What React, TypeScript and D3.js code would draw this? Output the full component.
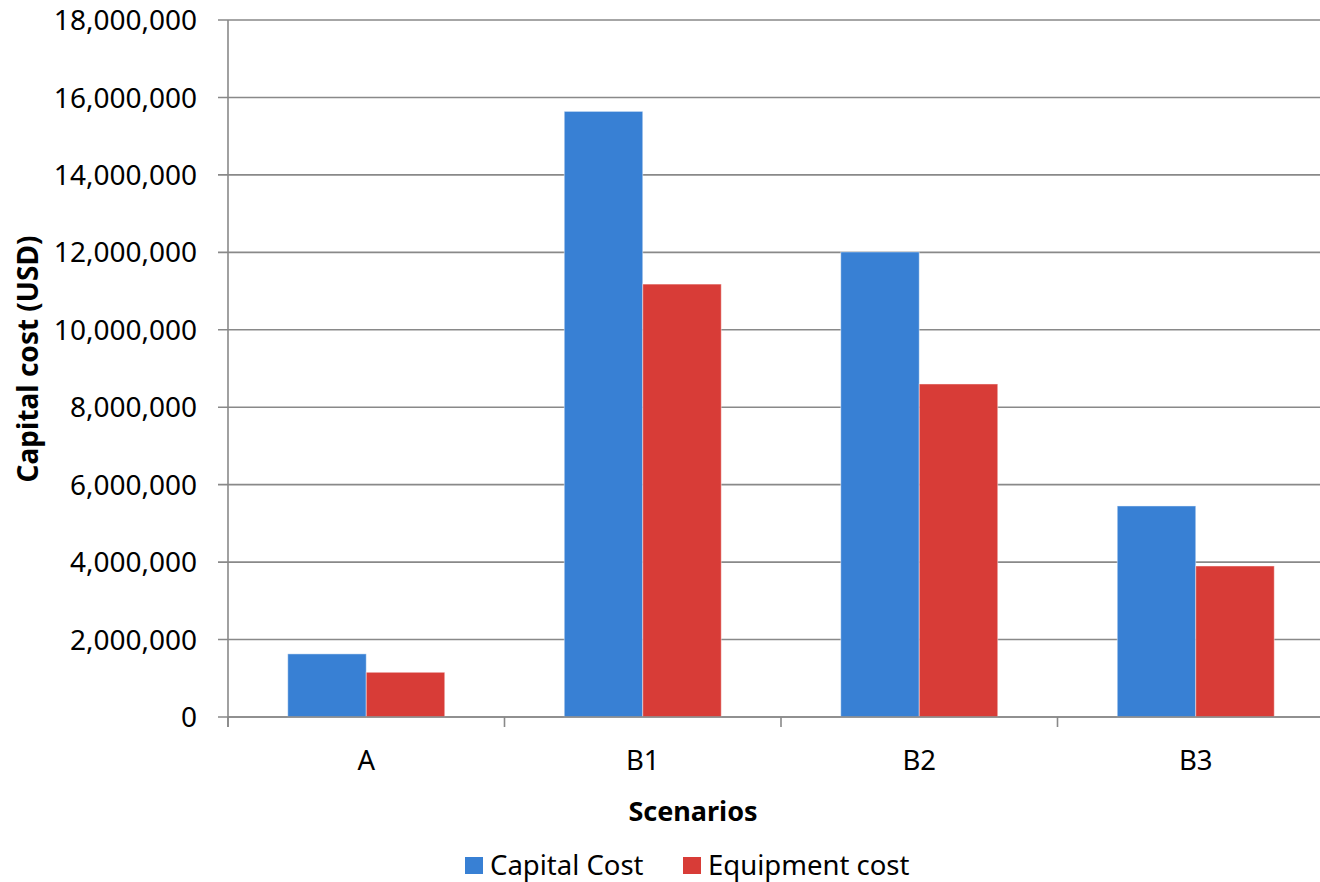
import React from "react";
import * as d3 from "d3";

const categories = ["A", "B1", "B2", "B3"];
const capitalCost = [1630000, 15640000, 12010000, 5450000];
const equipmentCost = [1155000, 11180000, 8600000, 3900000];
const seriesNames = ["Capital Cost", "Equipment cost"];
const seriesColors = ["#3880d4", "#d83c37"];
const yTicks = [0, 2000000, 4000000, 6000000, 8000000, 10000000, 12000000, 14000000, 16000000, 18000000];

const W = 1320;
const H = 882;
const FONT = "'Noto Sans', 'Open Sans', sans-serif";

export default function App() {
  const x0 = 228;
  const x1 = 228 + 4 * 276.5;
  const yTop = 20;
  const yBot = 717;
  const x = d3.scaleBand<string>().domain(categories).range([x0, x1]);
  const inner = d3.scaleBand<string>().domain(["0", "1"]).range([0, 157]);
  const y = d3.scaleLinear().domain([0, 18000000]).range([yBot, yTop]);
  const fmt = d3.format(",");
  const series = [capitalCost, equipmentCost];
  const gridColor = "#898989";

  return (
    <svg width={W} height={H} style={{ position: "absolute", left: 0, top: 0, background: "#fff" }}>
      {yTicks.map((t) => (
        <g key={t}>
          <line x1={218} x2={x1} y1={y(t)} y2={y(t)} stroke={gridColor} strokeWidth={1.6} />
          <text x={197} y={y(t)} dy="0.36em" textAnchor="end" fontFamily={FONT} fontSize={28} fill="#000">
            {fmt(t)}
          </text>
        </g>
      ))}
      {categories.map((c, i) => (
        <g key={c}>
          {series.map((s, k) => {
            const bx = (x(c) as number) + (x.bandwidth() - 157) / 2 + (inner(String(k)) as number);
            return (
              <rect
                key={k}
                x={bx}
                y={y(s[i])}
                width={inner.bandwidth()}
                height={yBot - y(s[i])}
                fill={seriesColors[k]}
                stroke="rgba(255,255,255,0.45)"
                strokeWidth={1}
              />
            );
          })}
          <text
            x={(x(c) as number) + x.bandwidth() / 2}
            y={760}
            dy="0.36em"
            textAnchor="middle"
            fontFamily={FONT}
            fontSize={27.5}
            fill="#000"
          >
            {c}
          </text>
        </g>
      ))}
      {categories.concat(["end"]).map((c, i) => (
        <line key={c} x1={x0 + i * x.bandwidth()} x2={x0 + i * x.bandwidth()} y1={yBot} y2={yBot + 10} stroke={gridColor} strokeWidth={1.6} />
      ))}
      <line x1={x0} x2={x0} y1={yTop} y2={yBot + 10} stroke={gridColor} strokeWidth={1.6} />
      <line x1={x0} x2={x1} y1={yBot} y2={yBot} stroke={gridColor} strokeWidth={1.6} />
      <text
        transform={`translate(28,${359}) rotate(-90)`}
        textAnchor="middle"
        dy="0.36em"
        fontFamily={FONT}
        fontSize={28}
        fontWeight="bold"
        fill="#000"
      >
        Capital cost (USD)
      </text>
      <text x={693} y={811} dy="0.36em" textAnchor="middle" fontFamily={FONT} fontSize={27} fontWeight="bold" fill="#000">
        Scenarios
      </text>
      {seriesNames.map((n, k) => {
        const lx = k === 0 ? 465 : 683;
        return (
          <g key={n}>
            <rect x={lx} y={857} width={18} height={17} fill={seriesColors[k]} />
            <text x={lx + 25} y={865.5} dy="0.36em" fontFamily={FONT} fontSize={27.5} fill="#000">
              {n}
            </text>
          </g>
        );
      })}
    </svg>
  );
}
